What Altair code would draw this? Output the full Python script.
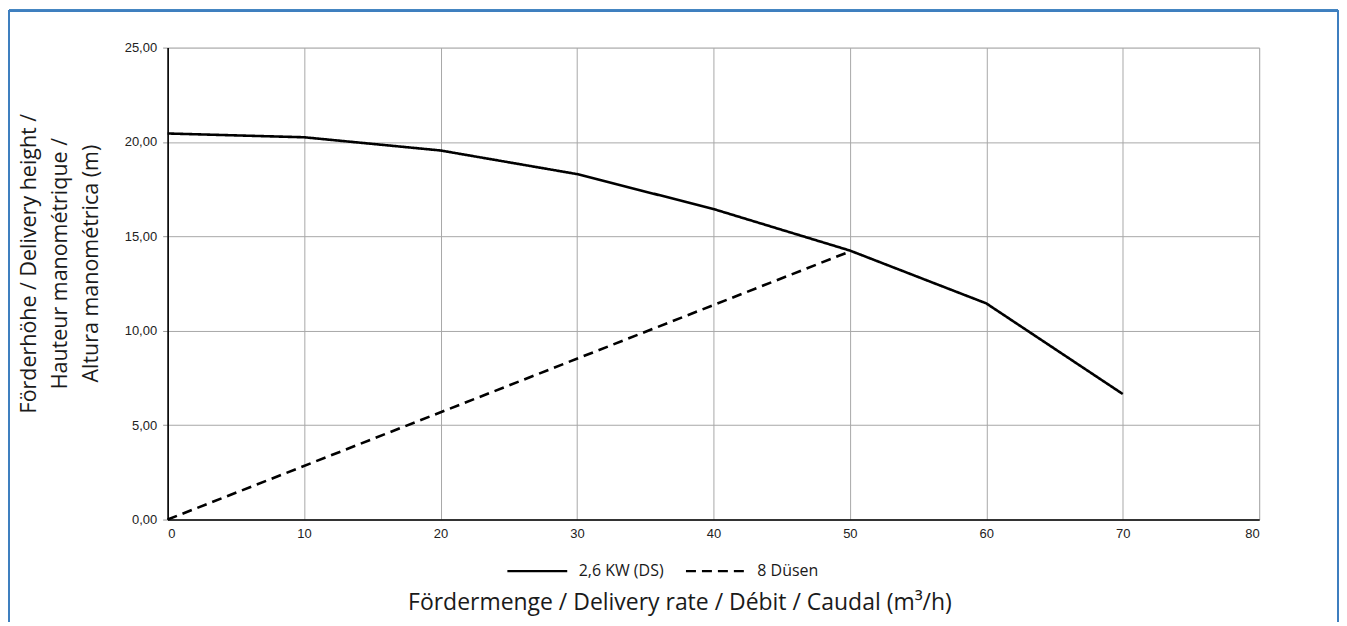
import altair as alt
import pandas as pd

# Data
flow_pump = [0, 10, 20, 30, 40, 50, 60, 70]
head_pump = [20.45, 20.25, 19.55, 18.3, 16.45, 14.25, 11.45, 6.65]
flow_nozzle = [0, 50]
head_nozzle = [0.0, 14.2]
series_names = ["2,6 KW (DS)", "8 Düsen"]

rows = []
for q, h in zip(flow_pump, head_pump):
    rows.append({"q": q, "h": h, "series": series_names[0]})
for q, h in zip(flow_nozzle, head_nozzle):
    rows.append({"q": q, "h": h, "series": series_names[1]})
df = pd.DataFrame(rows)

W, H = 1094, 473
PAD = {"left": 160, "top": 39, "right": 80, "bottom": 102}
TITLE_FONT = "Open Sans"
LABEL_FONT = "Liberation Sans"
BORDER = "#3f7fbf"

lines = alt.Chart(df).mark_line(strokeWidth=2.6, color="black", clip=False).encode(
    x=alt.X(
        "q:Q",
        scale=alt.Scale(domain=[0, 80], nice=False),
        axis=alt.Axis(
            values=[0, 10, 20, 30, 40, 50, 60, 70, 80],
            title="Fördermenge / Delivery rate / Débit / Caudal (m³/h)",
            titleFont=TITLE_FONT, titleFontSize=23, titleFontWeight="normal",
            titleColor="#1a1a1a",
            titleX=513, titleY=83, titleBaseline="middle", titleAnchor="start", titleAlign="center",
            labelFont=LABEL_FONT, labelFontSize=13, labelColor="#222",
            labelPadding=8, ticks=False,
            domainColor="black", domainWidth=1.6,
            gridColor="#a8a8a8", gridWidth=1,
        ),
    ),
    y=alt.Y(
        "h:Q",
        scale=alt.Scale(domain=[0, 25], nice=False),
        axis=alt.Axis(
            values=[0, 5, 10, 15, 20, 25],
            labelExpr="replace(format(datum.value, '.2f'), '.', ',')",
            title=["Förderhöhe / Delivery height /", "Hauteur manométrique /", "Altura manométrica (m)"],
            titleFont=TITLE_FONT, titleFontSize=21.5, titleFontWeight="normal",
            titleColor="#1a1a1a", titleLineHeight=31,
            titleX=-138, titleY=216, titleBaseline="middle", titleAlign="center", titleAngle=-90,
            labelFont=LABEL_FONT, labelFontSize=13, labelColor="#222",
            labelPadding=6, tickSize=5, tickColor="#999",
            domainColor="black", domainWidth=1.6,
            gridColor="#a8a8a8", gridWidth=1,
        ),
    ),
    strokeDash=alt.StrokeDash(
        "series:N",
        scale=alt.Scale(domain=series_names, range=[[1, 0], [10, 6]]),
        sort=series_names,
        legend=alt.Legend(
            title=None, orient="none", direction="horizontal",
            legendX=339, legendY=493,
            symbolType="stroke", symbolSize=3600, symbolStrokeWidth=2.4,
            symbolStrokeColor="black",
            labelFont=TITLE_FONT, labelFontSize=16, labelColor="#1a1a1a",
            labelOffset=10, columnPadding=16,
        ),
    ),
    detail="series:N",
)

# decorative frame around the whole figure (open at the bottom)
left_edge = alt.Chart(df).mark_rule(color=BORDER, strokeWidth=2).encode(
    x=alt.value(-159), y=alt.value(-37), y2=alt.value(H + PAD["bottom"] + 5)
)
top_edge = alt.Chart(df).mark_rule(color=BORDER, strokeWidth=2).encode(
    x=alt.value(-159), x2=alt.value(1173), y=alt.value(-37)
)
right_edge = alt.Chart(df).mark_rule(color=BORDER, strokeWidth=2).encode(
    x=alt.value(1173), y=alt.value(-37), y2=alt.value(H + PAD["bottom"] + 5)
)

chart = alt.layer(lines, left_edge, top_edge, right_edge).properties(
    width=W, height=H, padding=PAD,
    autosize=alt.AutoSizeParams(type="none"),
).configure_view(stroke="#999", strokeWidth=1).configure(background="white")

chart.save("out.html", embed_options={"renderer": "svg", "actions": False})
